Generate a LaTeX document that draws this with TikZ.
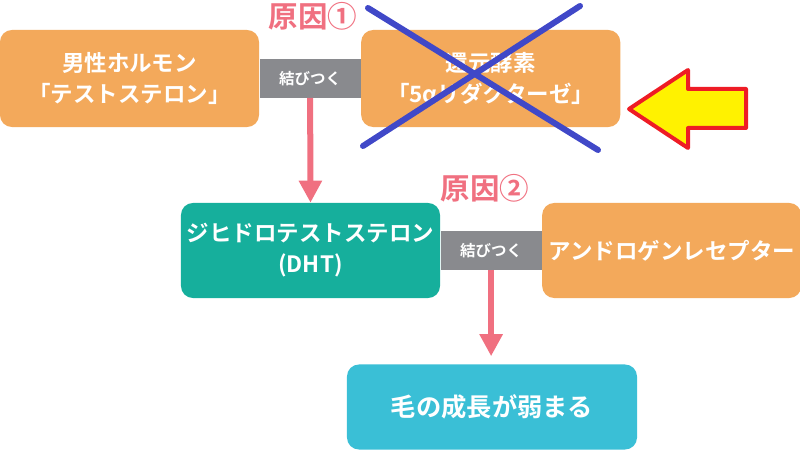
\documentclass[tikz,border=0pt]{standalone}
\usepackage{fontspec}
\newfontfamily\jpfont{Noto Sans CJK JP}[BoldFont={Noto Sans CJK JP Bold}]
\usetikzlibrary{arrows.meta, positioning}
\definecolor{myorange}{RGB}{243,169,91}
\definecolor{myteal}{RGB}{22,175,156}
\definecolor{mycyan}{RGB}{58,191,214}
\definecolor{mygray}{RGB}{137,138,142}
\definecolor{mypink}{RGB}{240,112,128}
\definecolor{myblue}{RGB}{64,72,200}
\definecolor{myyellow}{RGB}{255,242,0}
\definecolor{myred}{RGB}{238,28,37}
\tikzset{
  box/.style={rectangle, rounded corners=0.3cm, text=white, align=center,
    inner sep=0pt, minimum width=6.475cm, minimum height=2.425cm,
    font=\jpfont\bfseries\fontsize{16}{22}\selectfont},
  orangebox/.style={box, fill=myorange},
  bindbar/.style={rectangle, fill=mygray, text=white, inner sep=0pt,
    minimum width=2.525cm, minimum height=0.95cm,
    font=\jpfont\bfseries\fontsize{11}{13}\selectfont},
  cause/.style={text=mypink, font=\jpfont\bfseries\fontsize{21}{24}\selectfont},
  pinkarrow/.style={-{Triangle[width=0.55cm,length=0.55cm]}, line width=0.15cm, color=mypink}
}
\begin{document}
\begin{tikzpicture}[x=0.025cm, y=-0.025cm]
  \useasboundingbox (0,0) rectangle (800,451);

  % --- first row ---
  \node[orangebox] (testo) at (129.5,78.5) {男性ホルモン\\「テストステロン」};
  \node[bindbar, right=0pt of testo] (bind1) {結びつく};
  \node[orangebox, right=0pt of bind1] (reduct) {還元酵素\\「5αリダクターゼ」};
  \node[cause] (cause1) at (313,16) {原因①};

  % crossed out
  \draw[myblue, line width=0.15cm, line cap=round] (368,8) -- (598,150);
  \draw[myblue, line width=0.15cm, line cap=round] (363,146) -- (580,6);

  % yellow pointer
  \draw[myred, fill=myyellow, line width=0.1cm, line join=round]
    (629,109) -- (688,70) -- (688,89) -- (746,89) -- (746,128) -- (688,128) -- (688,148) -- cycle;

  % --- second row ---
  \node[box, fill=myteal, minimum height=2.375cm] (dht) at (310.5,250.5) {ジヒドロテストステロン\\(DHT)};
  \node[bindbar, right=0pt of dht] (bind2) {結びつく};
  \node[orangebox, minimum height=2.375cm, right=0pt of bind2] (recep) {アンドロゲンレセプター};
  \node[cause] (cause2) at (485,188) {原因②};

  % --- result ---
  \node[box, fill=mycyan, minimum width=7.25cm, minimum height=2.125cm,
    font=\jpfont\bfseries\fontsize{18}{22}\selectfont] (hair) at (492,407) {毛の成長が弱まる};

  \draw[pinkarrow] (bind1.south) -- (dht.north);
  \draw[pinkarrow] (bind2.south) -- ([yshift=0.2cm]hair.north -| bind2.south);
\end{tikzpicture}
\end{document}
